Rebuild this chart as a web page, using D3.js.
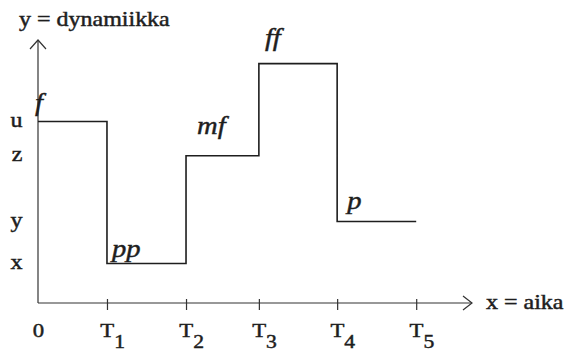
<!DOCTYPE html>
<html>
<head>
<meta charset="utf-8">
<script src="https://d3js.org/d3.v7.min.js"></script>
<style>
  html, body { margin: 0; padding: 0; background: #fff; }
  svg { display: block; }
  text { font-family: "Liberation Serif", "DejaVu Serif", serif; fill: #1e1e1e; stroke: #1e1e1e; stroke-width: 0.45px; }
</style>
</head>
<body>
<svg id="chart" width="568" height="351"></svg>
<script>
// time axis
const timeValues = [0, 0.89, 1.91, 2.85, 3.86, 4.88];
const timeNames = ["0", "T1", "T2", "T3", "T4", "T5"];

// dynamics axis
const levelValues = [1.5, 3.1, 5.6, 6.9];
const levelNames = ["x", "y", "z", "u"];

// the step curve: one segment per marking
const segmentStart = [0, 0.89, 1.91, 2.85, 3.86];
const segmentEnd = 4.88;
const segmentLevel = [6.9, 1.5, 5.6, 9.1, 3.1];
const dynamics = ["f", "pp", "mf", "ff", "p"];

// small hand nudges for the italic markings (layout, not data)
const markNudge = [[-3, -11], [5, -7], [11, -22], [6, -18], [10, -12]];

const svg = d3.select("#chart");
const ink = "#1e1e1e";
const stretch = "scale(1.2,1)";

const x = d3.scaleLinear().domain([0, 5.6]).range([38, 472]);
const y = d3.scaleLinear().domain([0, 10]).range([303, 40]);

// --- axes lines with open arrow heads ---
const axes = svg.append("g").attr("stroke", "#333").attr("fill", "none").attr("stroke-width", 1.2);
axes.append("line")
    .attr("x1", x(0)).attr("y1", y(0))
    .attr("x2", x(0)).attr("y2", y(10));
axes.append("path")
    .attr("d", `M${x(0) - 8},${y(10) + 9} L${x(0)},${y(10)} L${x(0) + 8},${y(10) + 9}`);
axes.append("line")
    .attr("x1", x(0)).attr("y1", y(0))
    .attr("x2", x(5.6)).attr("y2", y(0));
axes.append("path")
    .attr("d", `M${x(5.6) - 9},${y(0) - 7} L${x(5.6)},${y(0)} L${x(5.6) - 9},${y(0) + 7}`);

// --- x axis ticks and labels (with subscripts) ---
const xAxis = d3.axisBottom(x)
    .tickValues(timeValues)
    .tickSize(7)
    .tickFormat((d, i) => timeNames[i]);

const gx = svg.append("g")
    .attr("transform", `translate(0,${y(0)})`)
    .call(xAxis);
gx.select(".domain").remove();
gx.selectAll(".tick line")
    .attr("y1", -4)
    .attr("stroke", "#333")
    .attr("stroke-width", 1.2)
    .filter((d, i) => i === 0).remove();
gx.selectAll(".tick text")
    .attr("font-size", 19)
    .attr("fill", ink)
    .attr("y", 34)
    .attr("dy", 0)
    .attr("transform", stretch)
    .each(function(d, i) {
        const name = timeNames[i];
        const t = d3.select(this).text("");
        t.append("tspan").text(name.charAt(0));
        if (name.length > 1) {
            t.attr("text-anchor", "start").attr("x", -6);
            t.append("tspan")
                .attr("dy", 11)
                .attr("font-size", 18)
                .text(name.slice(1));
        }
    });

// --- y axis labels ---
const yAxis = d3.axisLeft(y)
    .tickValues(levelValues)
    .tickSize(0)
    .tickPadding(13)
    .tickFormat((d, i) => levelNames[i]);

const gy = svg.append("g")
    .attr("transform", `translate(${x(0)},0)`)
    .call(yAxis);
gy.select(".domain").remove();
gy.selectAll(".tick text")
    .attr("font-size", 20)
    .attr("fill", ink)
    .attr("dy", "0.25em")
    .attr("transform", stretch);

// axis titles
svg.append("text")
    .attr("transform", `translate(19,26) ${stretch}`)
    .attr("font-size", 20)
    .text("y = dynamiikka");

svg.append("text")
    .attr("transform", `translate(${x(5.6) + 14},${y(0) + 6}) ${stretch}`)
    .attr("font-size", 20)
    .text("x = aika");

// --- step curve ---
const points = segmentStart.map((t, i) => [t, segmentLevel[i]]);
points.push([segmentEnd, segmentLevel[segmentLevel.length - 1]]);

const line = d3.line()
    .x(d => x(d[0]))
    .y(d => y(d[1]))
    .curve(d3.curveStepAfter);

svg.append("path")
    .datum(points)
    .attr("d", line)
    .attr("fill", "none")
    .attr("stroke", ink)
    .attr("stroke-width", 1.6);

// --- dynamic markings ---
svg.append("g")
    .selectAll("text")
    .data(dynamics)
    .join("text")
    .attr("transform", (d, i) =>
        `translate(${x(segmentStart[i]) + markNudge[i][0]},${y(segmentLevel[i]) + markNudge[i][1]}) scale(1.1,1)`)
    .attr("font-size", 26)
    .attr("font-style", "italic")
    .text(d => d);
</script>
</body>
</html>
